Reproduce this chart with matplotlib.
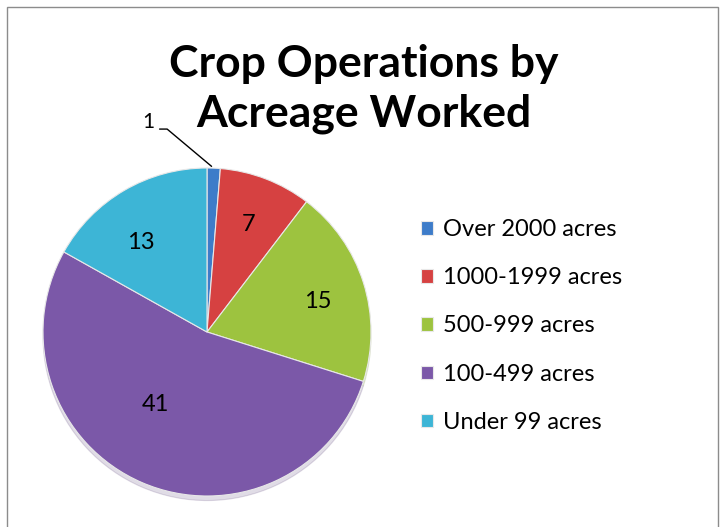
import matplotlib
matplotlib.use("Agg")
import matplotlib.pyplot as plt
import numpy as np
from matplotlib.patches import Rectangle

categories = ["Over 2000 acres", "1000-1999 acres", "500-999 acres", "100-499 acres", "Under 99 acres"]
values = [1, 7, 15, 41, 13]
colors = ["#3D7CC9", "#D64141", "#9DC33F", "#7B58A8", "#3DB5D6"]
title = "Crop Operations by\nAcreage Worked"

plt.rcParams['font.family'] = ['Lato', 'DejaVu Sans']

W, H = 723, 527
fig = plt.figure(figsize=(W / 100, H / 100), dpi=100)

# border
fig.patches.append(Rectangle((7 / W, -0.02), (718 - 7) / W, 1 - 7 / H + 0.02,
                             transform=fig.transFigure, fill=False,
                             edgecolor="#8C8C8C", linewidth=1.0))

cx, cy, r = 207, 332, 164
ax = fig.add_axes([(cx - r) / W, (H - cy - r) / H, 2 * r / W, 2 * r / H])
wedges, _ = ax.pie(values, colors=colors, startangle=90, counterclock=False,
                   radius=1.0,
                   wedgeprops=dict(edgecolor="#E8E8E8", linewidth=0.8),
                   shadow=dict(ox=0.0, oy=-0.02, shade=0.3, alpha=0.18))
ax.set_xlim(-1, 1)
ax.set_ylim(-1, 1)
ax.set_aspect("equal")
ax.axis("off")

label_r = [None, 0.70, 0.70, 0.54, 0.68]
label_ang_off = [0, 0, -2, -12, 6]
for i, w in enumerate(wedges):
    ang = (w.theta1 + w.theta2) / 2
    if i == 0:
        x, y = np.cos(np.radians(ang)), np.sin(np.radians(ang))
        ax.annotate(str(values[i]), xy=(x, y), xytext=(-0.36, 1.28),
                    fontsize=15, ha="center", va="center",
                    arrowprops=dict(arrowstyle="-", color="black", lw=1.0,
                                    relpos=(1.0, 0.15),
                                    connectionstyle="angle,angleA=0,angleB=140,rad=0"),
                    annotation_clip=False)
    else:
        a = np.radians(ang + label_ang_off[i])
        ax.text(label_r[i] * np.cos(a), label_r[i] * np.sin(a), str(values[i]),
                fontsize=17, ha="center", va="center")

fig.text(364 / W, 1 - 89 / H, title, ha="center", va="center",
         fontsize=32, fontweight="bold", linespacing=1.3)

fig.legend(wedges, categories, loc="center left",
           bbox_to_anchor=(421 / W, 1 - 326 / H), frameon=False,
           fontsize=17, labelspacing=1.15, handlelength=0.5, handleheight=0.5,
           handletextpad=0.42, borderpad=0, borderaxespad=0)

fig.savefig("out.png", dpi=100)
